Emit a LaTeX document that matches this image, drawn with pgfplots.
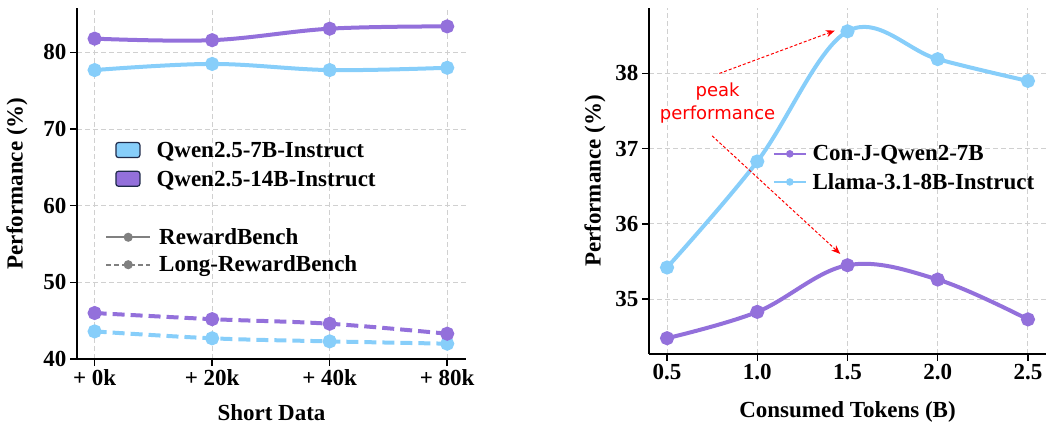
\documentclass[border=0pt]{standalone}
\usepackage{fontspec}
\setmainfont{Liberation Serif}
\newfontfamily\peakfont{DejaVu Sans}
\usepackage{pgfplots}
\pgfplotsset{compat=1.18}
\usetikzlibrary{arrows.meta}
\definecolor{qblue}{HTML}{87CEFA}
\definecolor{qpurple}{HTML}{9370DB}
\definecolor{legedge}{HTML}{1F2A4A}
\definecolor{gridc}{HTML}{D0D0D0}
\newcommand{\lbl}{\fontsize{23}{27}\selectfont\bfseries}
\pgfplotsset{
  base/.style={
    scale only axis,
    axis lines=left, axis line style={-, line width=1.5pt},
    tick align=outside, major tick length=7pt, tick style={black, line width=1.5pt},
    grid=major, grid style={gridc, line width=1pt, dash pattern=on 5pt off 3pt},
    tick label style={font=\lbl}, label style={font=\lbl},
    /pgf/number format/assume math mode=true,
  },
  mainline/.style={line width=4pt, smooth, tension=0.6, mark=*, mark size=5pt, mark options={solid, draw=none, fill=#1}, color=#1},
}
\begin{document}
\begin{tikzpicture}
\useasboundingbox (0,0) rectangle (1056pt,425pt);
% ---------------- left panel
\begin{axis}[base, at={(77pt,66pt)}, anchor=south west, width=389pt, height=351pt,
  xmin=-0.15, xmax=3.16, ymin=40, ymax=85.8,
  xtick={0,1,2,3}, xticklabels={+ 0k, + 20k, + 40k, + 80k},
  ytick={40,50,60,70,80},
  xlabel={Short Data}, ylabel={Performance (\%)},
  xlabel style={at={(axis description cs:0.5,-0.153)}, anchor=center},
  ylabel style={at={(axis description cs:-0.154,0.5)}, anchor=center},
  legend cell align=left,
  legend style={at={(axis description cs:0.098,0.624)}, anchor=north west, draw=none, fill=none,
    font=\lbl, inner sep=0pt, row sep=8pt, column sep=14pt},
  legend image code/.code={\filldraw[#1, draw=legedge, rounded corners=2.5pt, line width=1.2pt] (0pt,-7pt) rectangle (24pt,8pt);},
]
\addplot[mainline=qblue, forget plot] coordinates {(0,77.7) (1,78.5) (2,77.7) (3,78.0)};
\addplot[mainline=qpurple, forget plot] coordinates {(0,81.8) (1,81.6) (2,83.1) (3,83.4)};
\addplot[mainline=qblue, dash pattern=on 12pt off 6pt, forget plot] coordinates {(0,43.6) (1,42.7) (2,42.3) (3,42.0)};
\addplot[mainline=qpurple, dash pattern=on 12pt off 6pt, forget plot] coordinates {(0,46.0) (1,45.2) (2,44.6) (3,43.3)};
\addlegendimage{fill=qblue}
\addlegendentry{Qwen2.5-7B-Instruct}
\addlegendimage{fill=qpurple}
\addlegendentry{Qwen2.5-14B-Instruct}
\end{axis}
\begin{axis}[at={(77pt,66pt)}, anchor=south west, width=389pt, height=351pt, scale only axis,
  hide axis, xmin=0, xmax=1, ymin=0, ymax=1,
  legend cell align=left,
  legend style={at={(axis description cs:0.072,0.378)}, anchor=north west, draw=none, fill=none,
    font=\lbl, inner sep=0pt, row sep=6pt, column sep=6pt},
  legend image code/.code={\draw[mark repeat=2, mark phase=2, #1] plot coordinates {(0pt,0pt) (22pt,0pt) (44pt,0pt)};},
]
\addlegendimage{color=gray, line width=2pt, mark=*, mark size=3.5pt, mark options={solid}}
\addlegendentry{RewardBench}
\addlegendimage{color=gray, line width=2pt, dash pattern=on 5pt off 3pt, mark=*, mark size=3.5pt, mark options={solid}}
\addlegendentry{Long-RewardBench}
\end{axis}
% ---------------- right panel
\begin{axis}[base, at={(649pt,71pt)}, anchor=south west, width=397pt, height=346pt,
  xmin=0.4, xmax=2.6, ymin=34.27, ymax=38.87,
  xtick={0.5,1,1.5,2,2.5}, ytick={35,36,37,38},
  xticklabel style={/pgf/number format/.cd, fixed, fixed zerofill, precision=1},
  xlabel={Consumed Tokens (B)}, ylabel={Performance (\%)},
  xlabel style={at={(axis description cs:0.5,-0.168)}, anchor=center},
  ylabel style={at={(axis description cs:-0.136,0.5)}, anchor=center},
  legend cell align=left,
  legend style={at={(axis description cs:0.312,0.609)}, anchor=north west, draw=none, fill=none,
    font=\lbl, inner sep=0pt, row sep=7pt, column sep=4pt},
  legend image code/.code={\draw[mark repeat=2, mark phase=2, #1] plot coordinates {(0pt,0pt) (16pt,0pt) (32pt,0pt)};},
]
\addplot[mainline=qpurple, forget plot] coordinates {(0.5,34.48) (1.0,34.83) (1.5,35.45) (2.0,35.26) (2.5,34.73)};
\addplot[mainline=qblue, forget plot] coordinates {(0.5,35.42) (1.0,36.83) (1.5,38.56) (2.0,38.19) (2.5,37.90)};
\addlegendimage{color=qpurple, line width=1.5pt, mark=*, mark size=3pt}
\addlegendentry{Con-J-Qwen2-7B}
\addlegendimage{color=qblue, line width=1.5pt, mark=*, mark size=3pt}
\addlegendentry{Llama-3.1-8B-Instruct}
\draw[red, line width=1pt, dash pattern=on 3pt off 2pt, -{Stealth[length=9pt, width=7pt]}] (axis cs:0.79,38.0) -- (axis cs:1.43,38.57);
\draw[red, line width=1pt, dash pattern=on 3pt off 2pt, -{Stealth[length=9pt, width=7pt]}] (axis cs:0.75,37.17) -- (axis cs:1.46,35.6);
\node[red, align=center, font=\peakfont\fontsize{18}{23}\selectfont, inner sep=0pt] at (axis cs:0.78,37.6) {peak\\performance};
\end{axis}
\end{tikzpicture}
\end{document}
